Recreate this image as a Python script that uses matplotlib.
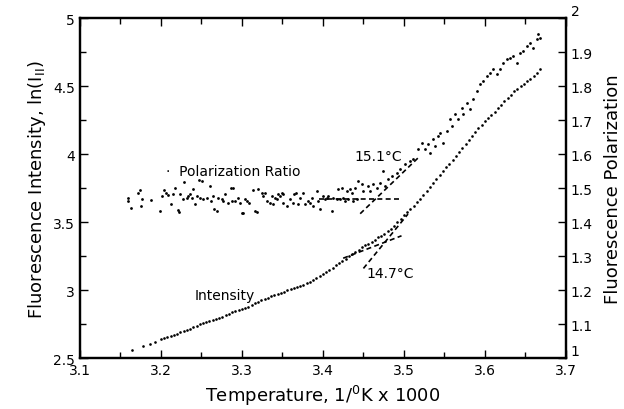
import matplotlib
matplotlib.use("Agg")
import matplotlib.pyplot as plt
from matplotlib.ticker import MultipleLocator, FormatStrFormatter

# Intensity, ln(I||), vs 1000/T
int_x = [3.164, 3.178, 3.187, 3.193,
         3.200, 3.204, 3.208, 3.212, 3.216, 3.220, 3.224, 3.228, 3.232, 3.236,
         3.240, 3.244, 3.248, 3.252, 3.256, 3.260, 3.264, 3.268, 3.272, 3.276,
         3.280, 3.284, 3.288, 3.292, 3.296, 3.300, 3.304, 3.308, 3.312, 3.316,
         3.320, 3.324, 3.328, 3.332, 3.336, 3.340, 3.344, 3.348, 3.352, 3.356,
         3.360, 3.364, 3.368, 3.372, 3.376, 3.380, 3.384, 3.388, 3.392, 3.396,
         3.400, 3.404, 3.408, 3.412, 3.416, 3.420, 3.424, 3.428, 3.432, 3.436,
         3.440, 3.444, 3.448, 3.452, 3.456, 3.460, 3.464, 3.468, 3.472, 3.476,
         3.480, 3.484, 3.488, 3.492, 3.496, 3.500, 3.504, 3.508, 3.512, 3.516,
         3.520, 3.524, 3.528, 3.532, 3.536, 3.540, 3.544, 3.548, 3.552, 3.556,
         3.560, 3.564, 3.568, 3.572, 3.576, 3.580, 3.584, 3.588, 3.592, 3.596,
         3.600, 3.604, 3.608, 3.612, 3.616, 3.620, 3.624, 3.628, 3.632, 3.636,
         3.640, 3.644, 3.648, 3.652, 3.656, 3.660, 3.664, 3.668]
int_y = [2.560, 2.590, 2.605, 2.620,
         2.641, 2.650, 2.656, 2.664, 2.672, 2.681, 2.690, 2.697, 2.706, 2.716,
         2.727, 2.736, 2.748, 2.757, 2.764, 2.770, 2.778, 2.787, 2.797, 2.806,
         2.815, 2.826, 2.836, 2.845, 2.853, 2.860, 2.869, 2.878, 2.890, 2.903,
         2.914, 2.925, 2.936, 2.946, 2.955, 2.963, 2.971, 2.980, 2.989, 2.998,
         3.006, 3.014, 3.022, 3.031, 3.041, 3.052, 3.062, 3.073, 3.086, 3.103,
         3.120, 3.136, 3.150, 3.165, 3.182, 3.198, 3.214, 3.232, 3.248, 3.263,
         3.280, 3.298, 3.316, 3.330, 3.343, 3.356, 3.372, 3.388, 3.402, 3.416,
         3.432, 3.452, 3.474, 3.498, 3.524, 3.550, 3.574, 3.598, 3.620, 3.645,
         3.668, 3.700, 3.731, 3.760, 3.790, 3.818, 3.846, 3.875, 3.903, 3.931,
         3.958, 3.987, 4.016, 4.045, 4.074, 4.103, 4.132, 4.160, 4.190, 4.218,
         4.244, 4.268, 4.291, 4.314, 4.337, 4.362, 4.388, 4.413, 4.438, 4.462,
         4.482, 4.500, 4.517, 4.535, 4.553, 4.576, 4.600, 4.628]

# Polarization ratio vs 1000/T
pol_x = [3.1597, 3.1597, 3.1630, 3.1720, 3.1741, 3.1753, 3.1762, 3.1877, 3.1988, 3.2017,
         3.2042, 3.2058, 3.2091, 3.2124, 3.2153, 3.2173, 3.2206, 3.2223, 3.2235, 3.2276,
         3.2289, 3.2317, 3.2338, 3.2358, 3.2379, 3.2400, 3.2420, 3.2441, 3.2470, 3.2482,
         3.2511, 3.2523, 3.2564, 3.2605, 3.2618, 3.2647, 3.2659, 3.2688, 3.2708, 3.2749,
         3.2770, 3.2791, 3.2832, 3.2865, 3.2873, 3.2893, 3.2914, 3.2955, 3.2976, 3.2996,
         3.3008, 3.3037, 3.3057, 3.3090, 3.3131, 3.3160, 3.3181, 3.3201, 3.3242, 3.3263,
         3.3284, 3.3304, 3.3345, 3.3366, 3.3387, 3.3407, 3.3428, 3.3448, 3.3469, 3.3489,
         3.3510, 3.3510, 3.3551, 3.3592, 3.3633, 3.3646, 3.3666, 3.3695, 3.3716, 3.3757,
         3.3777, 3.3819, 3.3839, 3.3860, 3.3880, 3.3921, 3.3942, 3.3963, 3.3996, 3.4024,
         3.4045, 3.4066, 3.4107, 3.4127, 3.4168, 3.4189, 3.4210, 3.4230, 3.4251, 3.4271,
         3.4292, 3.4313, 3.4333, 3.4354, 3.4374, 3.4395, 3.4415, 3.4436, 3.4477, 3.4498,
         3.4559, 3.4580, 3.4621, 3.4662, 3.4703, 3.4744, 3.4765, 3.4806, 3.4847, 3.4909,
         3.4950, 3.5012, 3.5074, 3.5115, 3.5177, 3.5218, 3.5259, 3.5300, 3.5321, 3.5362,
         3.5383, 3.5424, 3.5444, 3.5485, 3.5526, 3.5567, 3.5588, 3.5629, 3.5670, 3.5712,
         3.5732, 3.5773, 3.5815, 3.5856, 3.5897, 3.5938, 3.5979, 3.6020, 3.6062, 3.6103,
         3.6144, 3.6185, 3.6226, 3.6267, 3.6308, 3.6350, 3.6391, 3.6432, 3.6473, 3.6514,
         3.6555, 3.6596, 3.6637, 3.6658, 3.6679]
pol_y = [1.4726, 1.4627, 1.4432, 1.4873, 1.4951, 1.4481, 1.4696, 1.4647, 1.4334, 1.4775,
         1.4951, 1.4873, 1.4794, 1.4549, 1.4824, 1.5020, 1.4363, 1.4314, 1.4824, 1.4677,
         1.5186, 1.4726, 1.4775, 1.4824, 1.4726, 1.4971, 1.4529, 1.4775, 1.5235, 1.4726,
         1.5216, 1.4677, 1.4726, 1.5069, 1.4627, 1.4775, 1.4383, 1.4334, 1.4726, 1.4677,
         1.4627, 1.4824, 1.4578, 1.5020, 1.4627, 1.5020, 1.4627, 1.4726, 1.4578, 1.4284,
         1.4284, 1.4677, 1.4627, 1.4578, 1.4951, 1.4334, 1.4304, 1.4971, 1.4873, 1.4775,
         1.4873, 1.4627, 1.4578, 1.4775, 1.4529, 1.4726, 1.4677, 1.4824, 1.4775, 1.4873,
         1.4824, 1.4578, 1.4481, 1.4677, 1.4578, 1.4824, 1.4873, 1.4529, 1.4726, 1.4873,
         1.4529, 1.4627, 1.4578, 1.4726, 1.4481, 1.4922, 1.4627, 1.4383, 1.4775, 1.4677,
         1.4726, 1.4775, 1.4334, 1.4726, 1.4677, 1.4971, 1.4677, 1.5020, 1.4726, 1.4627,
         1.4922, 1.4677, 1.4971, 1.4873, 1.4627, 1.5020, 1.4677, 1.5216, 1.5118, 1.4922,
         1.5069, 1.4922, 1.5118, 1.5020, 1.5167, 1.5510, 1.5069, 1.5265, 1.5363, 1.5461,
         1.5559, 1.5706, 1.5804, 1.5853, 1.6147, 1.6343, 1.6147, 1.6294, 1.6049, 1.6441,
         1.6245, 1.6539, 1.6637, 1.6343, 1.6686, 1.7030, 1.6834, 1.7177, 1.7030, 1.7373,
         1.7177, 1.7520, 1.7324, 1.7618, 1.7863, 1.8059, 1.8157, 1.8304, 1.8402, 1.8500,
         1.8353, 1.8500, 1.8696, 1.8795, 1.8844, 1.8893, 1.8696, 1.8991, 1.9040, 1.9187,
         1.9285, 1.9138, 1.9383, 1.9530, 1.9432]

# hand-drawn break lines (end points)
int_low_x = [3.425, 3.497]
int_low_y = [3.235, 3.40]
int_high_x = [3.450, 3.505]
int_high_y = [3.16, 3.56]
pol_flat_x = [3.395, 3.497]
pol_flat_y = [1.468, 1.468]
pol_rise_x = [3.446, 3.520]
pol_rise_y = [1.425, 1.595]

plt.rcParams['font.family'] = 'DejaVu Sans'

fig = plt.figure(figsize=(6.24, 4.10), dpi=100)
ax = fig.add_axes([0.128, 0.124, 0.779, 0.829])
ax2 = ax.twinx()

ax.plot(int_x, int_y, 'o', color='black', markersize=1.9, markeredgewidth=0)
ax.plot(int_low_x, int_low_y, color='black', lw=1.2, linestyle=(0, (3, 2)))
ax.plot(int_high_x, int_high_y, color='black', lw=1.2, linestyle=(0, (3, 2)))

ax2.plot(pol_x, pol_y, 'o', color='black', markersize=2.0, markeredgewidth=0)
ax2.plot(pol_flat_x, pol_flat_y, color='black', lw=1.2, linestyle=(0, (3, 2)))
ax2.plot(pol_rise_x, pol_rise_y, color='black', lw=1.2, linestyle=(0, (3, 2)))

ax.set_xlim(3.1, 3.7)
ax.set_ylim(2.5, 5)
ax2.set_ylim(1, 2)

ax.xaxis.set_major_locator(MultipleLocator(0.1))
ax.xaxis.set_minor_locator(MultipleLocator(0.05))
ax.yaxis.set_major_locator(MultipleLocator(0.5))
ax.yaxis.set_minor_locator(MultipleLocator(0.25))
ax2.yaxis.set_major_locator(MultipleLocator(0.1))
ax.xaxis.set_major_formatter(FormatStrFormatter('%g'))
ax.yaxis.set_major_formatter(FormatStrFormatter('%g'))
ax2.yaxis.set_major_formatter(FormatStrFormatter('%g'))

ax.tick_params(which='both', direction='in', top=True, labelsize=10)
ax.tick_params(which='major', length=6, width=1)
ax.tick_params(which='minor', length=4, width=1)
ax2.tick_params(direction='in', length=6, width=1, labelsize=10)

for a in (ax, ax2):
    for s in a.spines.values():
        s.set_linewidth(1.6)

ax.set_xlabel('Temperature, 1/$^{\\mathregular{0}}$K x 1000', fontsize=13)
ax.set_ylabel('Fluorescence Intensity, ln(I$_{\\mathregular{II}}$)', fontsize=13)
ax2.set_ylabel('Fluorescence Polarization', fontsize=13, rotation=90, labelpad=8)

ax.text(3.206, 3.875, '\u00b7  Polarization Ratio', fontsize=10, va='center')
ax.text(3.279, 2.965, 'Intensity', fontsize=10, ha='center', va='center')
ax.text(3.468, 3.99, '15.1\u00b0C', fontsize=10, ha='center', va='center')
ax.text(3.483, 3.13, '14.7\u00b0C', fontsize=10, ha='center', va='center')

# end labels on the right axis sit above their ticks, as in the original
fig.canvas.draw()
for t in ax2.yaxis.get_major_ticks():
    if abs(t.get_loc() - 1) < 1e-6 or abs(t.get_loc() - 2) < 1e-6:
        t.label2.set_va('bottom')

fig.savefig('out.png', dpi=100)
